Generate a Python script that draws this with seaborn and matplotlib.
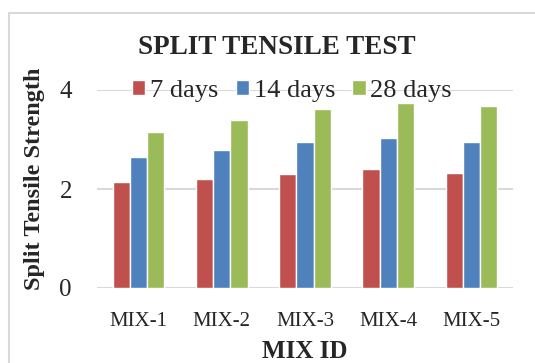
import matplotlib
matplotlib.use("Agg")
import matplotlib.pyplot as plt
import seaborn as sns
import pandas as pd
from matplotlib.patches import Rectangle

mixes = ["MIX-1", "MIX-2", "MIX-3", "MIX-4", "MIX-5"]
days_labels = ["7 days", "14 days", "28 days"]
d7 = [2.14, 2.20, 2.30, 2.41, 2.33]
d14 = [2.65, 2.79, 2.94, 3.03, 2.95]
d28 = [3.16, 3.39, 3.61, 3.74, 3.67]
colors = ["#C0504D", "#4F81BD", "#9BBB59"]

rows = []
for lab, vals in zip(days_labels, [d7, d14, d28]):
    for m, v in zip(mixes, vals):
        rows.append({"mix": m, "age": lab, "value": v})
df = pd.DataFrame(rows)

sns.set_style("white")
plt.rcParams['font.family'] = ['Liberation Serif', 'DejaVu Serif']

fig = plt.figure(figsize=(5.35, 3.63), dpi=100)
ax = fig.add_axes([97/535, 1-288/363, (513-97)/535, (288-90)/363])

sns.barplot(data=df, x="mix", y="value", hue="age", hue_order=days_labels,
            palette=colors, width=0.62, edgecolor="white", linewidth=1,
            ax=ax, saturation=1, legend=True)

ax.set_ylim(0, 4)
ax.set_yticks([0, 2, 4])
ax.set_xlim(-0.5, 4.5)
ax.yaxis.grid(True, color="#D9D9D9", linewidth=1.5)
ax.set_axisbelow(True)
for s in ax.spines.values():
    s.set_visible(False)
ax.tick_params(axis="y", labelsize=18, pad=18, length=0)
ax.tick_params(axis="x", labelsize=15, pad=17, length=0)
ax.set_xlabel("MIX ID", fontsize=18, fontweight="bold", va="center")
ax.xaxis.set_label_coords(0.5, (288-352)/198)
ax.set_ylabel("Split Tensile Strength", fontsize=17.5, fontweight="bold", va="center")
ax.yaxis.set_label_coords((35-97)/416, (288-179)/198)

ax.legend(loc="center", bbox_to_anchor=(0.469, 0.995), ncol=3, frameon=False,
          fontsize=19, handlelength=0.5, handleheight=0.5, handletextpad=0.18,
          columnspacing=0.65, borderaxespad=0, borderpad=0)

fig.text(277/535, 1-47/363, "SPLIT TENSILE TEST", ha="center", va="center",
         fontsize=19.5, fontweight="bold")

fig.patches.append(Rectangle((9/535, -0.1), 1.0, 1-12.5/363 + 0.1,
                             transform=fig.transFigure, fill=False,
                             edgecolor="#D9D9D9", linewidth=1.5))

fig.savefig("out.png", dpi=100)
